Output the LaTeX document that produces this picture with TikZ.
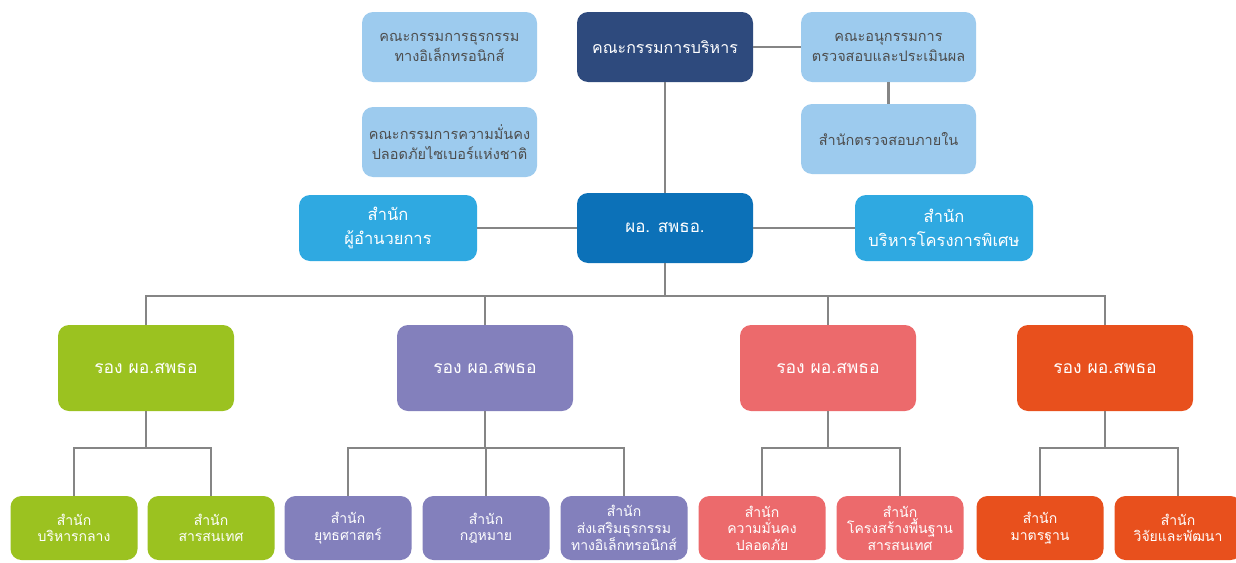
\documentclass[tikz,border=0pt]{standalone}
\usepackage{fontspec}
\newfontfamily\thai[Script=Thai]{Loma}
\definecolor{lightb}{HTML}{9DCBEE}
\definecolor{navy}{HTML}{2E4A7D}
\definecolor{cyanb}{HTML}{2FA9E1}
\definecolor{dirb}{HTML}{0C71B8}
\definecolor{grn}{HTML}{9BC220}
\definecolor{purp}{HTML}{8380BC}
\definecolor{pink}{HTML}{EC6A6C}
\definecolor{orng}{HTML}{E8501D}
\definecolor{linec}{HTML}{858585}
\definecolor{txtg}{HTML}{4D4D4D}
\tikzset{
  box/.style={rounded corners=11pt, align=center, inner sep=0pt, text=white,
    font=\thai\fontsize{16.5}{24}\selectfont},
  topbox/.style={box, fill=lightb, text=txtg, minimum width=175pt, minimum height=70pt,
    font=\thai\fontsize{14.5}{20}\selectfont},
  midbox/.style={box, minimum width=178pt, minimum height=66pt},
  depbox/.style={box, minimum width=176pt, minimum height=86pt,
    font=\thai\fontsize{17.5}{20}\selectfont},
  leafbox/.style={box, minimum width=127pt, minimum height=64pt,
    font=\thai\fontsize{14}{16.5}\selectfont},
  conn/.style={draw=linec, line width=2.4pt}
}
\begin{document}
\begin{tikzpicture}[x=1pt,y=-1pt]
\useasboundingbox (0,0) rectangle (1236,562);
\fill[white] (0,0) rectangle (1236,562);
% top level
\node[topbox] (dbiz) at (449.5,47) {คณะกรรมการธุรกรรม\\ทางอิเล็กทรอนิกส์};
\node[topbox] (cyber) at (449.5,142) {คณะกรรมการความมั่นคง\\ปลอดภัยไซเบอร์แห่งชาติ};
\node[topbox, fill=navy, text=white, minimum width=176pt, font=\thai\fontsize{16}{19}\selectfont] (board) at (665,47) {คณะกรรมการบริหาร};
\node[topbox] (subc) at (888.5,47) {คณะอนุกรรมการ\\ตรวจสอบและประเมินผล};
\node[topbox] (audit) at (888.5,139) {สำนักตรวจสอบภายใน};
% second level
\node[midbox, fill=cyanb] (office) at (388,228) {สำนัก\\ผู้อำนวยการ};
\node[box, fill=dirb, minimum width=176pt, minimum height=70pt, font=\thai\fontsize{17}{20}\selectfont] (dir) at (665,228) {ผอ. สพธอ.};
\node[midbox, fill=cyanb] (special) at (944,228) {สำนัก\\บริหารโครงการพิเศษ};
% deputies
\node[depbox, fill=grn] (d1) at (146,368) {รอง ผอ.สพธอ};
\node[depbox, fill=purp] (d2) at (485,368) {รอง ผอ.สพธอ};
\node[depbox, fill=pink] (d3) at (828,368) {รอง ผอ.สพธอ};
\node[depbox, fill=orng] (d4) at (1105,368) {รอง ผอ.สพธอ};
% leaves
\node[leafbox, fill=grn] (g1) at (74,528) {สำนัก\\บริหารกลาง};
\node[leafbox, fill=grn] (g2) at (211,528) {สำนัก\\สารสนเทศ};
\node[leafbox, fill=purp] (p1) at (348,528) {สำนัก\\ยุทธศาสตร์};
\node[leafbox, fill=purp] (p2) at (486,528) {สำนัก\\กฎหมาย};
\node[leafbox, fill=purp] (p3) at (624,528) {สำนัก\\ส่งเสริมธุรกรรม\\ทางอิเล็กทรอนิกส์};
\node[leafbox, fill=pink] (k1) at (762,528) {สำนัก\\ความมั่นคง\\ปลอดภัย};
\node[leafbox, fill=pink] (k2) at (900,528) {สำนัก\\โครงสร้างพื้นฐาน\\สารสนเทศ};
\node[leafbox, fill=orng] (o1) at (1040,528) {สำนัก\\มาตรฐาน};
\node[leafbox, fill=orng] (o2) at (1178,528) {สำนัก\\วิจัยและพัฒนา};
% connectors
\draw[conn] (board) -- (subc);
\draw[conn] (subc) -- (audit);
\draw[conn] (board) -- (dir);
\draw[conn] (office) -- (dir);
\draw[conn] (dir) -- (special);
\foreach \d in {d1,d2,d3,d4}{
  \draw[conn] (dir.south) -- ++(0,33) -| (\d.north);
}
\foreach \d/\c in {d1/g1,d1/g2,d2/p1,d2/p2,d2/p3,d3/k1,d3/k2,d4/o1,d4/o2}{
  \draw[conn] (\d.south) -- ++(0,37) -| (\c.north);
}
\end{tikzpicture}
\end{document}
